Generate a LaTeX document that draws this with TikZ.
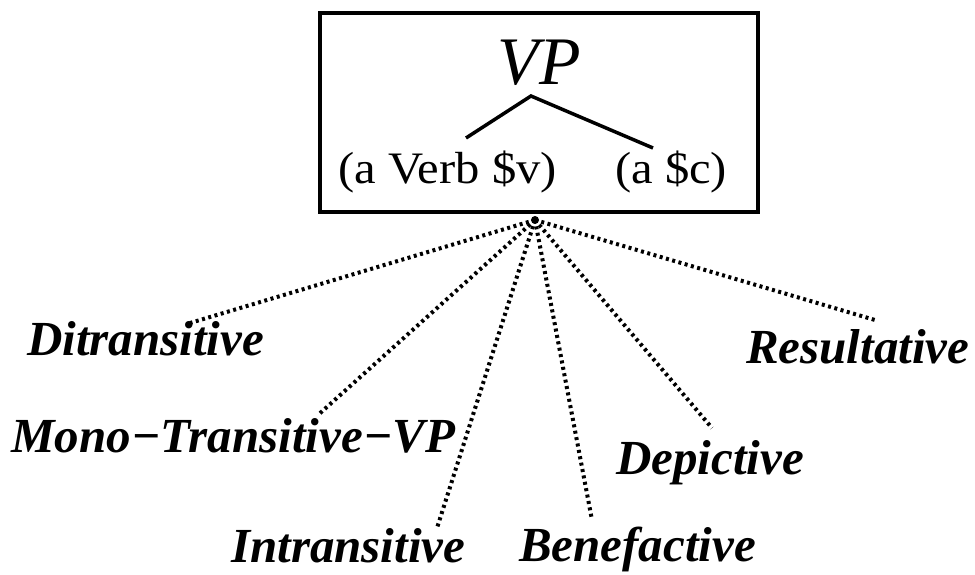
\documentclass[tikz,border=0pt]{standalone}
\usepackage{fontspec}
\setmainfont{Liberation Serif}
\begin{document}
\begin{tikzpicture}[x=1pt,y=-1pt,
  lbl/.style={inner sep=0pt,anchor=base west,font=\fontsize{49}{50}\selectfont\bfseries\itshape},
  dotl/.style={line width=4pt,dash pattern=on 3pt off 3.5pt},
  treel/.style={line width=3.5pt}]
\useasboundingbox (0,0) rectangle (975,575);
\draw[line width=4.5pt] (320,13) rectangle (758,212);
\node[inner sep=0pt,anchor=base,font=\fontsize{68}{70}\selectfont\itshape] (vp) at (539,85) {VP};
\node[inner sep=0pt,anchor=base west,font=\fontsize{45}{46}\selectfont] (av) at (338,184) {\scalebox{1.08}[1]{(a Verb \$v)}};
\node[inner sep=0pt,anchor=base west,font=\fontsize{45}{46}\selectfont] (ac) at (615,184) {\scalebox{1.08}[1]{(a \$c)}};
\coordinate (apex) at (531,96);
\coordinate (lt) at (466,138);
\coordinate (rt) at (653,148);
\draw[treel] (lt) -- (apex) -- (rt);
\coordinate (o) at (535,220);
\fill (o) circle (4pt);
\node[lbl] (di) at (27,355) {Ditransitive};
\node[lbl] (mo) at (11,452) {Mono−Transitive−VP};
\node[lbl] (in) at (231,562) {Intransitive};
\node[lbl] (be) at (519,561) {Benefactive};
\node[lbl] (de) at (616,474) {Depictive};
\node[lbl] (re) at (746,363) {Resultative};
\coordinate (dix) at (190,323);
\coordinate (mox) at (318,415);
\coordinate (inx) at (437,528);
\coordinate (bex) at (592,520);
\coordinate (dex) at (712,428);
\coordinate (rex) at (875,320);
\foreach \e in {dix,mox,inx,bex,dex,rex}
  \draw[dotl] (o) -- (\e);
\end{tikzpicture}
\end{document}
